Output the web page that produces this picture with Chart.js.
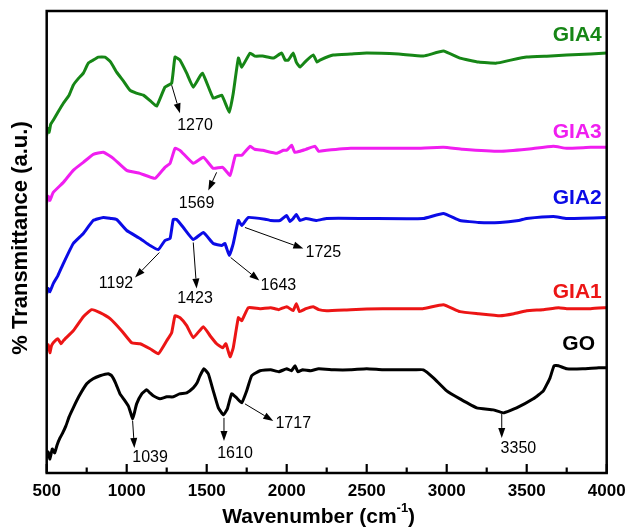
<!DOCTYPE html>
<html>
<head>
<meta charset="utf-8">
<title>FTIR spectra</title>
<script src="https://cdn.jsdelivr.net/npm/chart.js@4.4.1/dist/chart.umd.min.js"></script>
<style>
  html, body { margin: 0; padding: 0; background: #fff; }
  #wrap { width: 629px; height: 529px; }
</style>
</head>
<body>
<div id="wrap"><canvas id="ftir" width="629" height="529"></canvas></div>
<script>
// FTIR spectra of GO and the GIA1-GIA4 samples, stacked with a vertical offset (a.u.)

const goWave = [500, 510, 520, 535, 550, 565, 583, 600, 620, 640, 666, 700, 750, 790, 833, 885, 906, 930, 958, 985,
  1010, 1025, 1037, 1048, 1062, 1094, 1125, 1145, 1166, 1208, 1250, 1291, 1330, 1375, 1416, 1440, 1458, 1483, 1510, 1541,
  1573, 1604, 1629, 1656, 1687, 1719, 1750, 1781, 1833, 1900, 1950, 2000, 2030, 2052, 2070, 2100, 2150, 2200, 2300, 2400,
  2500, 2600, 2700, 2800, 2854, 2917, 3000, 3083, 3187, 3291, 3354, 3437, 3541, 3604, 3646, 3671, 3698, 3750, 3850, 3950, 4000];
const goT = [15, 21, 14, 24, 20, 28, 35, 40, 47, 56, 65, 76, 89, 94, 97, 99, 97, 90, 79, 73,
  67, 60, 54, 60, 69, 79, 83, 80, 77, 74, 76, 76, 79, 80, 85, 90, 97, 104, 99, 82,
  65, 58, 64, 79, 75, 70, 82, 97, 102, 103, 101, 104, 102, 107, 101, 103, 102, 104, 103, 103,
  104, 103, 103, 103, 103, 95, 82, 74, 65, 63, 60, 65, 74, 82, 95, 107, 107, 104, 104, 105, 105];

const gia1Wave = [500, 510, 520, 530, 541, 570, 590, 604, 666, 729, 781, 833, 896, 968, 1031, 1083, 1146, 1198, 1250, 1281,
  1302, 1333, 1375, 1416, 1479, 1521, 1562, 1600, 1620, 1646, 1666, 1698, 1719, 1760, 1833, 1900, 1950, 2000, 2040, 2060,
  2080, 2120, 2166, 2200, 2250, 2400, 2600, 2850, 2979, 3083, 3200, 3333, 3420, 3500, 3600, 3700, 3750, 3900, 4000];
const gia1T = [122, 128, 120, 127, 130, 134, 129, 132, 142, 156, 163, 160, 154, 142, 130, 129, 124, 119, 132, 140,
  157, 155, 147, 135, 146, 137, 129, 125, 129, 116, 125, 155, 152, 165, 164, 165, 163, 166, 162, 169,
  161, 164, 166, 163, 162, 163, 164, 164, 168, 161, 159, 157, 159, 162, 163, 165, 164, 164, 165];

const gia2Wave = [500, 510, 520, 541, 570, 604, 666, 729, 791, 854, 900, 937, 1000, 1083, 1146, 1198, 1239, 1271, 1291, 1312,
  1354, 1416, 1479, 1541, 1594, 1614, 1641, 1666, 1698, 1719, 1760, 1875, 1900, 1958, 1999, 2020, 2041, 2060, 2083, 2120,
  2187, 2250, 2500, 2854, 2979, 3083, 3200, 3333, 3450, 3500, 3666, 3750, 4000];
const gia2T = [179, 184, 181, 189, 197, 209, 229, 239, 252, 255, 254, 253, 242, 234, 227, 223, 232, 234, 253, 253,
  245, 233, 240, 229, 227, 229, 217, 229, 252, 247, 255, 253, 252, 252, 257, 251, 254, 258, 252, 254,
  252, 254, 254, 254, 259, 252, 250, 250, 252, 254, 256, 254, 255];

const gia3Wave = [500, 510, 520, 541, 604, 666, 729, 791, 854, 916, 1000, 1083, 1177, 1239, 1271, 1302, 1333, 1416, 1479, 1541,
  1600, 1646, 1680, 1719, 1771, 1800, 1850, 1937, 1980, 2000, 2031, 2050, 2083, 2120, 2177, 2200, 2250, 2400, 2600, 2800,
  2979, 3100, 3333, 3500, 3666, 3750, 3900, 4000];
const gia3T = [270, 276, 272, 280, 290, 302, 310, 318, 320, 314, 302, 299, 294, 305, 309, 324, 322, 309, 315, 304,
  305, 297, 317, 317, 326, 323, 322, 319, 322, 322, 327, 320, 321, 323, 326, 321, 322, 324, 324, 324,
  325, 323, 321, 323, 326, 324, 325, 325];

const gia4Wave = [500, 505, 515, 525, 541, 570, 604, 640, 666, 700, 729, 760, 790, 822, 864, 900, 937, 980, 1020, 1060,
  1104, 1150, 1187, 1239, 1281, 1302, 1333, 1375, 1416, 1473, 1541, 1594, 1641, 1666, 1698, 1719, 1771, 1800, 1850, 1916,
  1968, 1990, 2010, 2041, 2060, 2083, 2120, 2166, 2190, 2208, 2291, 2400, 2500, 2700, 2854, 2979, 3083, 3200, 3312, 3400,
  3500, 3650, 3750, 3900, 4000];
const gia4T = [337, 344, 340, 348, 352, 360, 369, 377, 387, 394, 399, 409, 412, 415, 415, 410, 400, 391, 382, 379,
  377, 371, 366, 385, 389, 415, 412, 399, 385, 399, 374, 377, 360, 379, 414, 405, 419, 416, 416, 414,
  419, 412, 412, 419, 410, 405, 411, 417, 410, 412, 417, 418, 419, 418, 416, 421, 414, 410, 409, 412,
  415, 416, 417, 418, 419];

const sampleNames = ['GO', 'GIA1', 'GIA2', 'GIA3', 'GIA4'];
const sampleColors = ['#000000', '#ec1515', '#0b0be6', '#f01ef0', '#168616'];
// where each sample name sits (right edge wavenumber, a.u.)
const nameAnchors = [[3927, 129], [3969, 180], [3969, 274], [3969, 340], [3969, 437]];

const xTicks = [500, 1000, 1500, 2000, 2500, 3000, 3500, 4000];

// band labels: arrow tail, arrow head and text centre in (wavenumber, a.u.)
const bandLabels = ['1039', '1610', '1717', '3350', '1192', '1423', '1643', '1725', '1569', '1270'];
const bandArrows = [
  [1037, 52, 1048, 25], [1608, 55, 1608, 32], [1739, 69, 1916, 52], [3344, 59, 3344, 35],
  [1204, 220, 1052, 195], [1416, 230, 1437, 184], [1650, 215, 1829, 192], [1739, 245, 2104, 224],
  [1562, 300, 1510, 282], [1281, 387, 1333, 359]
];
const bandText = [
  [1146, 15], [1677, 19], [2041, 49], [3448, 24],
  [933, 189], [1427, 174], [1948, 187], [2229, 220],
  [1437, 269], [1427, 347]
];

const spectra = [
  [goWave, goT], [gia1Wave, gia1T], [gia2Wave, gia2T], [gia3Wave, gia3T], [gia4Wave, gia4T]
];

const FONT = 'Arial, "Liberation Sans", Helvetica, sans-serif';

function drawArrow(ctx, x1, y1, x2, y2) {
  const ang = Math.atan2(y2 - y1, x2 - x1);
  const len = 10, half = 3.5;
  const bx = x2 - len * Math.cos(ang), by = y2 - len * Math.sin(ang);
  ctx.beginPath();
  ctx.moveTo(x1, y1);
  ctx.lineTo(bx, by);
  ctx.stroke();
  ctx.beginPath();
  ctx.moveTo(x2, y2);
  ctx.lineTo(bx - half * Math.sin(ang), by + half * Math.cos(ang));
  ctx.lineTo(bx + half * Math.sin(ang), by - half * Math.cos(ang));
  ctx.closePath();
  ctx.fill();
}

// frame, inward ticks, band arrows, sample names and axis titles
const decorations = {
  id: 'decorations',
  afterDatasetsDraw(chart) {
    const { ctx, chartArea: a, scales: { x, y } } = chart;
    ctx.save();

    ctx.strokeStyle = '#000';
    ctx.lineWidth = 2.5;
    ctx.strokeRect(a.left, a.top, a.right - a.left, a.bottom - a.top);

    ctx.lineWidth = 2.2;
    for (let v = 500; v <= 4000; v += 250) {
      const px = x.getPixelForValue(v);
      const major = v % 500 === 0;
      ctx.beginPath();
      ctx.moveTo(px, a.bottom);
      ctx.lineTo(px, a.bottom - (major ? 9 : 5.5));
      ctx.stroke();
    }

    ctx.lineWidth = 1;
    ctx.fillStyle = '#000';
    ctx.font = '16px ' + FONT;
    ctx.textAlign = 'center';
    ctx.textBaseline = 'middle';
    bandArrows.forEach((r, i) => {
      drawArrow(ctx, x.getPixelForValue(r[0]), y.getPixelForValue(r[1]),
        x.getPixelForValue(r[2]), y.getPixelForValue(r[3]));
      ctx.fillText(bandLabels[i], x.getPixelForValue(bandText[i][0]), y.getPixelForValue(bandText[i][1]));
    });

    ctx.font = 'bold 21px ' + FONT;
    ctx.textAlign = 'right';
    sampleNames.forEach((name, i) => {
      ctx.fillStyle = sampleColors[i];
      ctx.fillText(name, x.getPixelForValue(nameAnchors[i][0]), y.getPixelForValue(nameAnchors[i][1]));
    });

    // y title
    ctx.fillStyle = '#000';
    ctx.font = 'bold 22px ' + FONT;
    ctx.textAlign = 'center';
    ctx.save();
    ctx.translate(21, 238);
    ctx.rotate(-Math.PI / 2);
    ctx.fillText('% Transmittance (a.u.)', 0, 0);
    ctx.restore();

    // x title with superscript -1
    const main = 'Wavenumber (cm';
    ctx.font = 'bold 21px ' + FONT;
    const w1 = ctx.measureText(main).width;
    const w3 = ctx.measureText(')').width;
    ctx.font = 'bold 13px ' + FONT;
    const w2 = ctx.measureText('-1').width;
    const cx = (a.left + a.right) / 2 - 8;
    let tx = cx - (w1 + w2 + w3) / 2;
    const ty = 517;
    ctx.textAlign = 'left';
    ctx.font = 'bold 21px ' + FONT;
    ctx.fillText(main, tx, ty);
    tx += w1;
    ctx.font = 'bold 13px ' + FONT;
    ctx.fillText('-1', tx, ty - 9);
    tx += w2;
    ctx.font = 'bold 21px ' + FONT;
    ctx.fillText(')', tx, ty);

    ctx.restore();
  }
};

new Chart(document.getElementById('ftir'), {
  type: 'line',
  data: {
    datasets: spectra.map((s, i) => ({
      label: sampleNames[i],
      data: s[0].map((w, k) => ({ x: w, y: s[1][k] })),
      borderColor: sampleColors[i],
      borderWidth: 3,
      pointRadius: 0,
      tension: 0.12,
      fill: false
    }))
  },
  options: {
    responsive: false,
    animation: false,
    events: [],
    layout: { padding: { left: 46.7, right: 22.3, top: 11, bottom: 19.6 } },
    plugins: {
      legend: { display: false },
      tooltip: { enabled: false }
    },
    scales: {
      x: {
        type: 'linear',
        min: 500,
        max: 4000,
        grid: { display: false, drawTicks: false },
        border: { display: false },
        afterBuildTicks: (axis) => { axis.ticks = xTicks.map(v => ({ value: v })); },
        // end labels may overhang the plot; the layout padding already leaves room
        afterFit: (axis) => { axis.paddingLeft = 0; axis.paddingRight = 0; },
        ticks: {
          padding: 8,
          color: '#000',
          maxRotation: 0,
          autoSkip: false,
          callback: (v) => String(v),
          font: { family: FONT, size: 17, weight: 'bold' }
        }
      },
      y: {
        display: false,
        min: 0,
        max: 461
      }
    }
  },
  plugins: [decorations]
});
</script>
</body>
</html>
